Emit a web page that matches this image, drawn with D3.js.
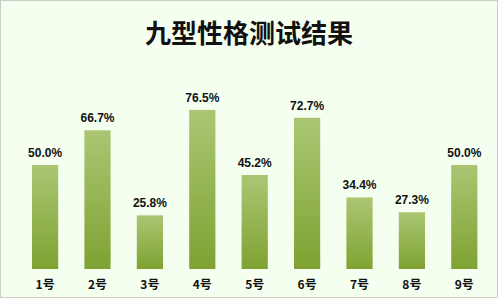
<!DOCTYPE html>
<html><head><meta charset="utf-8">
<script src="https://cdn.jsdelivr.net/npm/d3@7"></script>
<style>
html,body{margin:0;padding:0;background:#fff;}
svg{display:block;}
</style>
</head><body>
<svg id="c" width="500" height="300"></svg>
<script>
const categories = ["1号","2号","3号","4号","5号","6号","7号","8号","9号"];
const values = [50.0, 66.7, 25.8, 76.5, 45.2, 72.7, 34.4, 27.3, 50.0];
const valueLabels = ["50.0%","66.7%","25.8%","76.5%","45.2%","72.7%","34.4%","27.3%","50.0%"];
const title = "九型性格测试结果";

const svg = d3.select("#c");
const W = 500, H = 300;

svg.append("rect").attr("x",0.5).attr("y",0.5).attr("width",W-3).attr("height",H-3)
  .attr("fill","#f4fff0").attr("stroke","#c9cfc6").attr("stroke-width",1);

const defs = svg.append("defs");
const g = defs.append("linearGradient").attr("id","bg").attr("x1",0).attr("y1",0).attr("x2",0).attr("y2",1);
g.append("stop").attr("offset","0%").attr("stop-color","#abc673");
g.append("stop").attr("offset","100%").attr("stop-color","#7fa232");

const x = d3.scaleBand().domain(categories).range([18.9, 490.5]).paddingInner(0.5).paddingOuter(0.25);
const y = d3.scaleLinear().domain([0,100]).range([269, 61]);

svg.append("text").attr("x",249).attr("y",43).attr("text-anchor","middle")
  .attr("font-family","'Noto Sans CJK SC', sans-serif").attr("font-weight","bold")
  .attr("font-size",26).attr("fill","#111").text(title);

svg.selectAll("rect.bar").data(values).enter().append("rect").attr("class","bar")
  .attr("x",(d,i)=>x(categories[i])).attr("width",x.bandwidth())
  .attr("y",d=>y(d)).attr("height",d=>y(0)-y(d)).attr("fill","url(#bg)");

svg.selectAll("text.val").data(values).enter().append("text").attr("class","val")
  .attr("x",(d,i)=>x(categories[i])+x.bandwidth()/2).attr("y",d=>y(d)-8)
  .attr("text-anchor","middle").attr("font-family","'Liberation Sans', Arial, sans-serif")
  .attr("font-weight","bold").attr("font-size",12).attr("fill","#111")
  .text((d,i)=>valueLabels[i]);

const xa = svg.append("g").attr("transform",`translate(0,${y(0)})`)
  .call(d3.axisBottom(x).tickSize(0).tickPadding(11));
xa.select(".domain").remove();
xa.selectAll("text").attr("font-family","'Noto Sans CJK SC', sans-serif")
  .attr("font-weight","bold").attr("font-size",12).attr("fill","#111").attr("dy","0.71em");
</script>
</body></html>
